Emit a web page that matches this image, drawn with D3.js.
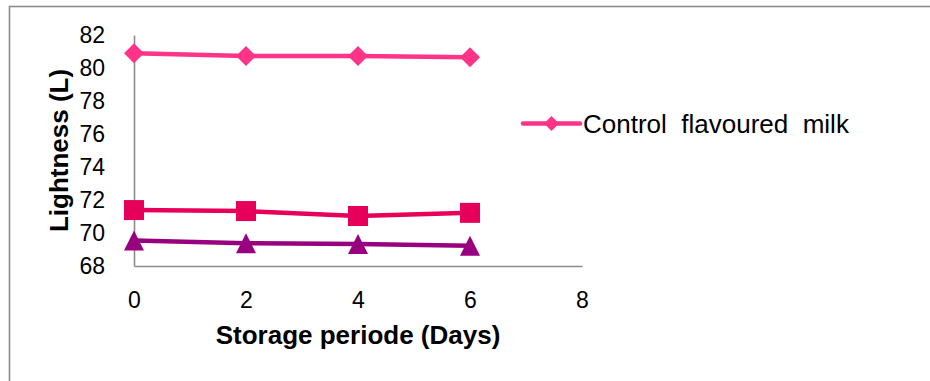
<!DOCTYPE html>
<html>
<head>
<meta charset="utf-8">
<script src="https://cdn.jsdelivr.net/npm/d3@7"></script>
<style>
  html, body { margin: 0; padding: 0; background: #fff; }
  svg { display: block; }
  text { font-family: "Liberation Sans", Arial, sans-serif; fill: #000; }
</style>
</head>
<body>
<svg id="chart" width="930" height="381"></svg>
<script>
// Storage days on the x axis
const days = [0, 2, 4, 6];
// Lightness (L) readings per formulation
const controlMilk = [80.89, 80.73, 80.73, 80.65];
const secondMilk = [71.39, 71.33, 71.03, 71.22];
const thirdMilk = [69.55, 69.38, 69.33, 69.23];
const yTicks = [68, 70, 72, 74, 76, 78, 80, 82];
const xTicks = [0, 2, 4, 6, 8];
const legendLabel = "Control  flavoured  milk";
const xTitle = "Storage periode (Days)";
const yTitle = "Lightness (L)";

const series = [
  { name: "control", values: controlMilk, color: "#ff3388", marker: "diamond" },
  { name: "second", values: secondMilk, color: "#e6005a", marker: "square" },
  { name: "third", values: thirdMilk, color: "#990080", marker: "triangle" }
];

const svg = d3.select("#chart");

// outer chart frame (top and left edges in view)
svg.append("rect")
  .attr("x", 9.5).attr("y", 6.5)
  .attr("width", 960).attr("height", 420)
  .attr("fill", "none").attr("stroke", "#8c8c8c").attr("stroke-width", 1.6);

const x = d3.scaleLinear().domain([0, 8]).range([134, 582]);
const y = d3.scaleLinear().domain([68, 82]).range([266, 35]);

// axes
const yAxis = svg.append("g").attr("transform", `translate(${x(0)},0)`)
  .call(d3.axisLeft(y).tickValues(yTicks).tickSize(0).tickPadding(29).tickFormat(d3.format("d")));
const xAxis = svg.append("g").attr("transform", `translate(0,${y(68)})`)
  .call(d3.axisBottom(x).tickValues(xTicks).tickSize(0).tickPadding(26).tickFormat(d3.format("d")));
[yAxis, xAxis].forEach(g => {
  g.select(".domain").attr("stroke", "#8c8c8c").attr("stroke-width", 1.6);
  g.selectAll("text").style("font-family", '"Liberation Sans", Arial, sans-serif')
    .style("font-size", "23px").attr("fill", "#000");
});
yAxis.selectAll("text").attr("dy", "0.34em");
xAxis.selectAll("text").attr("dy", "0.7em");

// axis titles
svg.append("text")
  .attr("x", x(4)).attr("y", 344)
  .attr("text-anchor", "middle")
  .style("font-size", "26px").style("font-weight", "bold")
  .text(xTitle);
svg.append("text")
  .attr("transform", "translate(68,150.5) rotate(-90)")
  .attr("text-anchor", "middle")
  .style("font-size", "26px").style("font-weight", "bold")
  .text(yTitle);

// marker outlines centred on the data point
function markerPath(kind, s) {
  const h = s / 2;
  if (kind === "diamond") return `M0,${-h}L${h},0L0,${h}L${-h},0Z`;
  if (kind === "square") return `M${-h},${-h}H${h}V${h}H${-h}Z`;
  return `M0,${-h}L${h},${h}H${-h}Z`;
}

const line = d3.line().x((d, i) => x(days[i])).y(d => y(d));

const g = svg.append("g");
series.forEach(s => {
  g.append("path")
    .attr("d", line(s.values))
    .attr("fill", "none")
    .attr("stroke", s.color)
    .attr("stroke-width", 4.5)
    .attr("stroke-linejoin", "round");
  g.selectAll(null).data(s.values).enter().append("path")
    .attr("transform", (d, i) => `translate(${x(days[i])},${y(d)})`)
    .attr("d", markerPath(s.marker, 20))
    .attr("fill", s.color);
});

// legend
const lg = svg.append("g").attr("transform", "translate(523,123.5)");
lg.append("line").attr("x1", 0).attr("x2", 57).attr("y1", 0).attr("y2", 0)
  .attr("stroke", series[0].color).attr("stroke-width", 4.5).attr("stroke-linecap", "round");
lg.append("path").attr("transform", "translate(28.5,0)")
  .attr("d", markerPath("diamond", 15)).attr("fill", series[0].color);
lg.append("text")
  .attr("x", 60).attr("y", 0).attr("dy", "0.35em")
  .style("font-size", "26px").style("white-space", "pre")
  .attr("xml:space", "preserve")
  .text(legendLabel);
</script>
</body>
</html>
